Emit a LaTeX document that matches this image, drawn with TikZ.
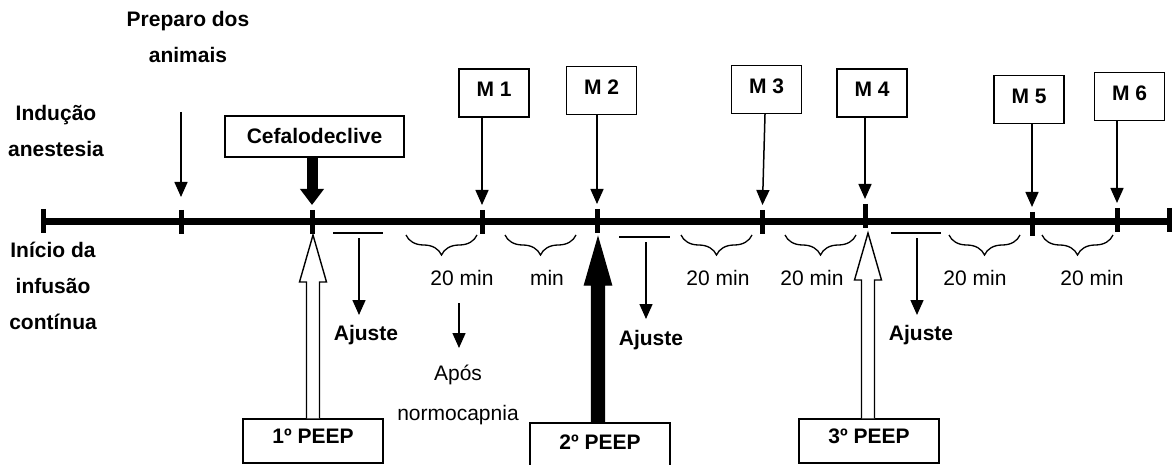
\documentclass[tikz,border=0pt]{standalone}
\usepackage{fontspec}
\setmainfont{Liberation Sans}
\usetikzlibrary{arrows.meta,calc,positioning,decorations.pathreplacing}
\newcommand{\fonte}{\fontsize{21}{36}\selectfont}
\tikzset{
  mbox/.style={
    rectangle,
    draw=black, line width=1.4pt,
    minimum width=70pt, minimum height=48pt,
    inner sep=0pt,
    text height=14.7pt, text depth=7pt,
    font=\fonte\bfseries,
  },
  peepbox/.style={mbox, minimum width=140pt, minimum height=44pt, text depth=10pt},
  rotulo/.style={align=center, anchor=base, inner sep=0pt, font=\fonte\bfseries},
  tempo/.style={anchor=base, inner sep=0pt, font=\fonte},
  seta/.style={->, line width=1.5pt, shorten >=0pt},
  marca/.style={line width=5pt},
  chave/.style={decorate, decoration={brace, mirror, amplitude=20pt}, line width=1.3pt},
}
% seta larga (PEEP) da caixa ate a ponta
\newcommand{\setapeep}[3]{%
  \filldraw[line width=1.4pt, fill=#3]
    ($(#2 |- #1)+(-6.5,0)$) -- ($(#2)+(-6.5,47)$) -- ($(#2)+(-13.5,47)$) -- (#2)
    -- ($(#2)+(13.5,47)$) -- ($(#2)+(6.5,47)$) -- ($(#2 |- #1)+(6.5,0)$);
}
\begin{document}
\begin{tikzpicture}[x=1pt,y=-1pt,>={Triangle[width=13pt,length=15pt]}]
  \useasboundingbox (0,0) rectangle (1175,465);
  \clip (0,0) rectangle (1175,465);

  % linha do tempo
  \coordinate (t0) at (43,221);
  \coordinate (t1) at (181,222);
  \coordinate (t2) at (312,222);
  \coordinate (t3) at (482,222);
  \coordinate (t4) at (597,221);
  \coordinate (t5) at (762,222);
  \coordinate (t6) at (865,216);
  \coordinate (t7) at (1032,224);
  \coordinate (t8) at (1117,220);
  \coordinate (t9) at (1169,220);
  \draw[line width=7pt] (t0 |- 0,222) -- (t9 |- 0,222);
  \foreach \i in {0,...,9}
    \draw[marca] ($(t\i)+(0,-12)$) -- ($(t\i)+(0,12)$);

  % rotulos (base = ultima linha)
  \node[rotulo] (prep) at (188,63) {Preparo dos\\animais};
  \node[rotulo] (ind) at (56,157) {Indução\\anestesia};
  \node[rotulo] (ini) at (53,329) {Início da\\infusão\\contínua};

  % caixas
  \node[mbox, minimum width=179pt, minimum height=41pt, text depth=0pt] (cef) at (314.5,136.5) {Cefalodeclive};
  \node[mbox] (m1) at (494,93) {M 1};
  \node[mbox] (m2) at (601.5,90.5) {M 2};
  \node[mbox] (m3) at (766.5,89.5) {M 3};
  \node[mbox] (m4) at (872,93) {M 4};
  \node[mbox] (m5) at (1029,99.5) {M 5};
  \node[mbox] (m6) at (1129.5,96.5) {M 6};
  \node[peepbox] (p1) at (313,441) {1º PEEP};
  \node[peepbox, minimum height=48pt] (p2) at (600,447) {2º PEEP};
  \node[peepbox] (p3) at (869,441) {3º PEEP};

  % setas para a linha
  \coordinate (prepfim) at (181,112);
  \draw[seta, shorten >=25pt] (prepfim) -- (t1);
  \draw[line width=11pt, -{Triangle[width=23pt,length=16pt]}, shorten >=17pt] (cef.south -| t2) -- (t2);
  \foreach \m/\t in {m1/t3, m2/t4, m4/t6, m5/t7, m6/t8}
    \draw[seta, shorten >=17pt] (\m.south -| \t) -- (\t);
  \draw[seta, shorten >=17pt] ($(m3.south -| t5)+(3,0)$) -- (t5);

  % PEEP
  \coordinate (pt1) at (313,235);
  \coordinate (pt2) at (598,238);
  \coordinate (pt3) at (868,233);
  \setapeep{p1.north}{pt1}{white}
  \setapeep{p2.north}{pt2}{black}
  \setapeep{p3.north}{pt3}{white}

  % intervalos de 20 min
  \foreach \a/\b in {406/477, 505/576, 681/752, 785/856, 949/1020, 1042/1113}
    \draw[chave] (\a,235) -- (\b,235);
  \foreach \x/\txt [count=\i] in {462/20 min, 547/min, 718/20 min, 812/20 min, 975/20 min, 1092/20 min}
    \node[tempo] (min\i) at (\x,285) {\txt};

  % ajustes
  \foreach \a/\b/\y/\s/\e [count=\i] in {333/383/233/359/315, 619/670/237/646/319, 891/941/233/917/315} {
    \coordinate (h\i a) at (\a,\y);
    \coordinate (h\i b) at (\b,\y);
    \coordinate (s\i) at (\s,\y+5);
    \coordinate (f\i) at (\s,\e);
    \draw[line width=1.4pt] (h\i a) -- (h\i b);
    \draw[seta] (s\i) -- (f\i);
  }
  \node[rotulo] (aj1) at (366,340) {Ajuste};
  \node[rotulo] (aj2) at (651,345) {Ajuste};
  \node[rotulo] (aj3) at (921,340) {Ajuste};

  % normocapnia
  \coordinate (n1) at (459,303);
  \coordinate (n2) at (459,348);
  \draw[seta] (n1) -- (n2);
  \node[tempo, align=center] (apos) at (458,420) {Após\\[4pt]normocapnia};
\end{tikzpicture}
\end{document}
